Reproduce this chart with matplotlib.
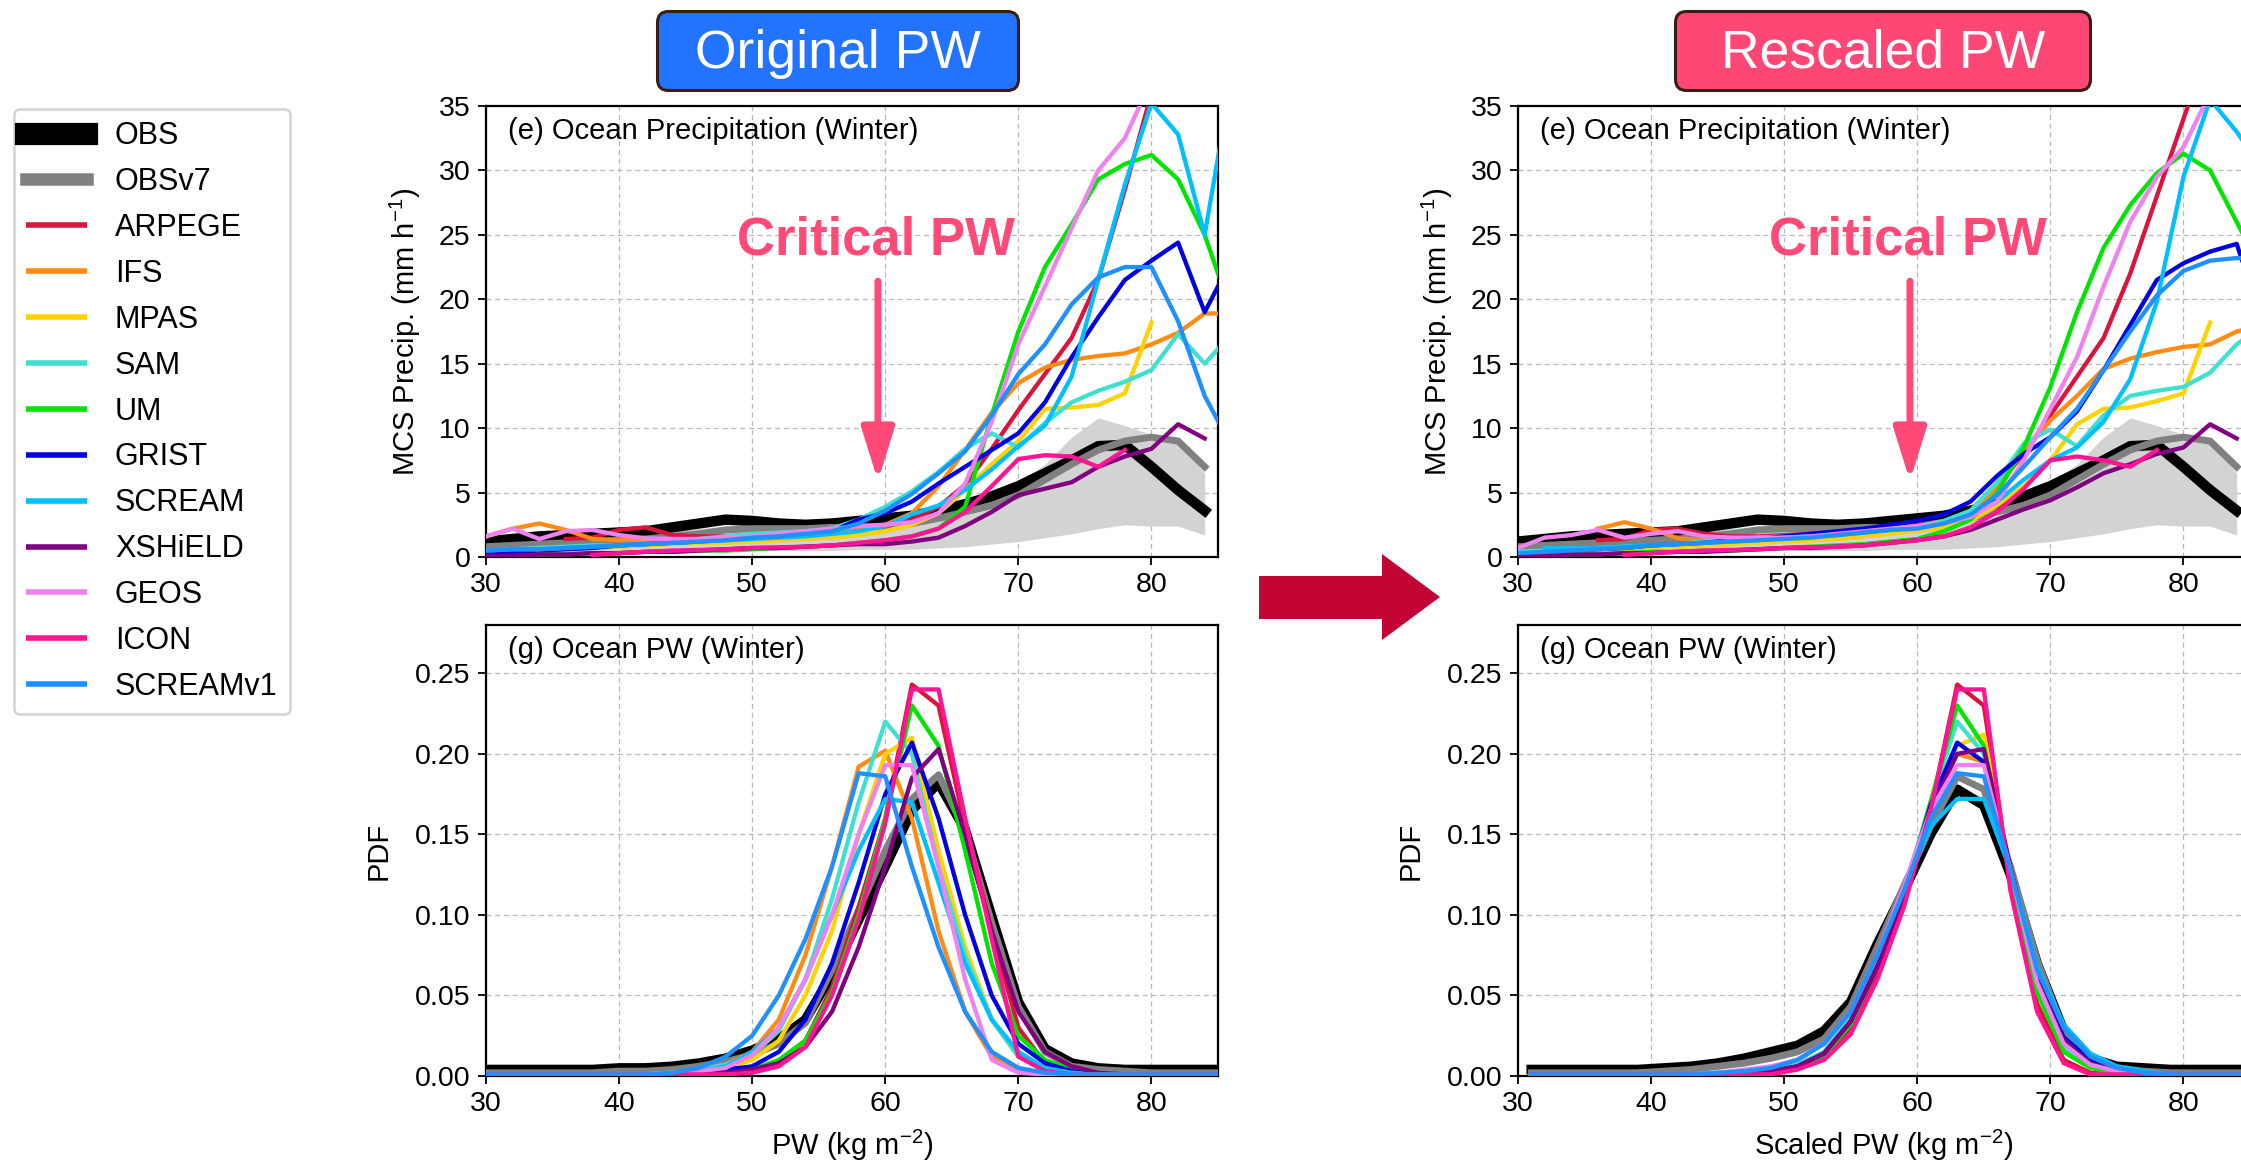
import numpy as np
import matplotlib
matplotlib.use("Agg")
import matplotlib.pyplot as plt
from matplotlib.lines import Line2D
from matplotlib.patches import FancyBboxPatch, Polygon
from matplotlib.ticker import FormatStrFormatter

plt.rcParams["font.family"] = ["Liberation Sans", "DejaVu Sans"]
plt.rcParams["mathtext.default"] = "regular"

nan = np.nan

# PW bins (kg m-2)
pw = [30, 32, 34, 36, 38, 40, 42, 44, 46, 48, 50, 52, 54, 56, 58, 60, 62, 64, 66, 68, 70, 72, 74, 76, 78, 80, 82, 84, 86]
pw_scaled = [31, 33, 35, 37, 39, 41, 43, 45, 47, 49, 51, 53, 55, 57, 59, 61, 63, 65, 67, 69, 71, 73, 75, 77, 79, 81, 83, 85, 87]

models = ["ARPEGE", "IFS", "MPAS", "SAM", "UM", "GRIST", "SCREAM", "XSHiELD", "GEOS", "ICON", "SCREAMv1"]
colors = ["#dc143c", "#ff8a14", "#ffd200", "#40e0d0", "#00e400", "#0000e0",
          "#00bfff", "#800080", "#ee82ee", "#ff1493", "#1e90ff"]

# ---- MCS precip vs PW (mm/h), obs ----
obs_precip = [1.2, 1.4, 1.6, 1.7, 1.8, 1.9, 2.0, 2.3, 2.6, 2.9, 2.8, 2.6, 2.5, 2.6, 2.8, 3.0, 3.2, 3.6, 4.1, 4.7, 5.5, 6.5, 7.5, 8.6, 8.7, 7.0, 5.2, 3.6, nan]
obsv7_precip = [0.8, 0.9, 1.0, 1.1, 1.2, 1.3, 1.4, 1.6, 1.8, 2.1, 2.2, 2.2, 2.2, 2.3, 2.3, 2.4, 2.6, 3.0, 3.5, 4.0, 4.8, 6.0, 7.2, 8.3, 9.0, 9.3, 9.0, 7.0, nan]
obs_range_lo = [0.2, 0.2, 0.3, 0.3, 0.3, 0.3, 0.4, 0.4, 0.4, 0.5, 0.5, 0.5, 0.5, 0.5, 0.6, 0.6, 0.6, 0.7, 0.8, 1.0, 1.2, 1.5, 1.8, 2.2, 2.5, 2.4, 2.4, 1.7, nan]
obs_range_hi = [1.0, 1.1, 1.2, 1.4, 1.5, 1.6, 1.8, 2.0, 2.2, 2.4, 2.5, 2.5, 2.5, 2.6, 2.7, 2.9, 3.1, 3.6, 4.2, 5.0, 5.8, 7.2, 9.3, 10.8, 10.2, 9.5, 9.0, 6.5, nan]

# ---- MCS precip vs original PW ----
arpege_p = [nan, nan, nan, 1.4, 1.5, 2.1, 2.3, 1.7, 1.6, 1.6, 1.7, 1.8, 1.9, 2.0, 2.2, 2.4, 2.9, 3.9, 5.6, 8.4, 11.4, 14.2, 17.0, 21.5, 28.5, 36.0, 40.0, 44.0, 48.0]
ifs_p = [1.6, 2.2, 2.6, 2.1, 1.4, 1.3, 1.3, 1.3, 1.3, 1.4, 1.5, 1.6, 1.7, 1.9, 2.1, 2.5, 3.4, 5.5, 8.3, 11.2, 13.5, 14.7, 15.3, 15.6, 15.8, 16.5, 17.4, 18.9, 18.9]
mpas_p = [0.4, 0.5, 0.6, 0.7, 0.8, 0.8, 0.9, 1.0, 1.1, 1.1, 1.2, 1.3, 1.4, 1.5, 1.7, 2.0, 2.5, 3.4, 5.2, 7.2, 9.0, 11.5, 11.6, 11.8, 12.7, 18.2, nan, nan, nan]
sam_p = [0.5, 0.6, 0.7, 0.8, 0.9, 0.9, 1.0, 1.2, 1.4, 1.6, 1.8, 1.9, 2.0, 2.2, 2.9, 3.9, 5.1, 6.6, 8.4, 9.6, 8.5, 10.4, 12.0, 12.9, 13.6, 14.5, 17.3, 15.0, 17.3]
um_p = [0.1, 0.1, 0.2, 0.2, 0.3, 0.3, 0.4, 0.4, 0.5, 0.5, 0.6, 0.7, 0.8, 0.9, 1.1, 1.3, 1.6, 2.2, 3.9, 11.0, 17.5, 22.5, 25.8, 29.3, 30.5, 31.2, 29.3, 25.0, 19.0]
grist_p = [0.3, 0.4, 0.5, 0.6, 0.7, 0.9, 1.0, 1.1, 1.2, 1.4, 1.5, 1.7, 1.8, 2.0, 2.9, 3.4, 4.3, 5.7, 7.0, 8.3, 9.6, 12.0, 15.5, 18.6, 21.5, 23.0, 24.4, 19.0, 23.0]
scream_p = [0.5, 0.6, 0.6, 0.7, 0.8, 0.9, 1.0, 1.1, 1.2, 1.3, 1.4, 1.5, 1.6, 1.8, 2.0, 2.4, 3.3, 4.0, 5.2, 6.8, 8.6, 10.2, 14.0, 21.5, 28.9, 35.2, 32.8, 25.0, 37.0]
xshield_p = [0.1, 0.1, 0.2, 0.2, 0.3, 0.3, 0.4, 0.4, 0.5, 0.6, 0.7, 0.7, 0.8, 0.9, 1.0, 1.0, 1.2, 1.5, 2.4, 3.5, 4.8, 5.3, 5.8, 7.0, 7.8, 8.4, 10.3, 9.2, nan]
geos_p = [1.6, 2.2, 1.4, 2.0, 2.1, 1.7, 1.45, 1.4, 1.4, 1.5, 1.6, 1.8, 2.0, 2.2, 2.4, 2.5, 2.7, 3.4, 5.7, 10.5, 16.5, 21.0, 25.5, 30.0, 32.5, 37.0, nan, nan, nan]
icon_p = [nan, nan, nan, nan, 0.15, 0.3, 0.4, 0.5, 0.55, 0.6, 0.7, 0.75, 0.8, 0.9, 1.1, 1.3, 1.6, 2.2, 3.5, 5.5, 7.6, 7.9, 7.8, 7.0, 8.3, nan, nan, nan, nan]
screamv1_p = [0.5, 0.6, 0.6, 0.7, 0.8, 0.9, 1.0, 1.1, 1.2, 1.3, 1.5, 1.6, 1.8, 2.0, 2.6, 3.6, 4.9, 6.5, 8.2, 11.0, 14.2, 16.5, 19.6, 21.7, 22.5, 22.5, 18.3, 12.5, 8.6]

# ---- MCS precip vs rescaled PW ----
arpege_rp = [nan, nan, nan, 1.3, 1.4, 2.1, 2.2, 1.8, 1.6, 1.6, 1.7, 1.8, 1.9, 2.0, 2.2, 2.5, 2.8, 3.5, 5.5, 8.0, 11.0, 14.0, 17.0, 22.0, 28.0, 34.0, 40.0, 46.0, 50.0]
ifs_rp = [nan, nan, nan, 2.2, 2.7, 2.2, 1.45, 1.3, 1.3, 1.35, 1.4, 1.5, 1.6, 1.8, 2.0, 2.3, 2.6, 3.3, 5.5, 8.2, 10.6, 12.5, 14.6, 15.4, 15.9, 16.3, 16.5, 17.5, 18.0]
mpas_rp = [0.3, 0.4, 0.5, 0.6, 0.6, 0.7, 0.8, 0.9, 1.0, 1.1, 1.2, 1.3, 1.4, 1.6, 1.8, 2.0, 2.3, 2.8, 4.0, 5.5, 7.5, 10.3, 11.5, 11.6, 12.1, 12.7, 18.2, nan, nan]
sam_rp = [0.4, 0.5, 0.6, 0.7, 0.8, 0.9, 1.0, 1.2, 1.3, 1.5, 1.6, 1.7, 1.8, 2.0, 2.2, 2.4, 2.8, 3.6, 5.8, 8.8, 9.9, 8.6, 11.0, 12.5, 12.9, 13.2, 14.3, 16.5, 18.0]
um_rp = [0.1, 0.1, 0.2, 0.2, 0.3, 0.4, 0.4, 0.5, 0.5, 0.6, 0.7, 0.8, 0.9, 1.0, 1.2, 1.4, 2.0, 2.9, 5.0, 8.5, 13.2, 19.0, 24.0, 27.3, 29.8, 31.3, 30.0, 26.0, 22.0]
grist_rp = [0.2, 0.3, 0.5, 0.6, 0.7, 0.9, 1.0, 1.1, 1.3, 1.4, 1.6, 1.8, 2.0, 2.2, 2.5, 2.8, 3.3, 4.3, 6.3, 8.0, 9.3, 11.3, 14.5, 18.0, 21.5, 22.8, 23.7, 24.3, 18.0]
scream_rp = [nan, 0.7, 0.7, 0.7, 0.8, 0.9, 1.0, 1.1, 1.2, 1.3, 1.5, 1.6, 1.7, 1.9, 2.1, 2.3, 2.6, 3.2, 4.3, 6.0, 7.5, 8.5, 10.5, 13.8, 19.8, 29.5, 35.5, 33.0, 30.0]
xshield_rp = [0.1, 0.1, 0.2, 0.2, 0.3, 0.3, 0.4, 0.4, 0.5, 0.6, 0.7, 0.7, 0.8, 0.9, 1.1, 1.3, 1.6, 2.1, 2.9, 3.7, 4.4, 5.4, 6.5, 7.2, 8.0, 8.5, 10.3, 9.2, nan]
geos_rp = [0.7, 1.5, 1.7, 2.1, 1.5, 1.8, 2.0, 1.6, 1.5, 1.5, 1.5, 1.6, 1.8, 2.0, 2.2, 2.4, 2.6, 3.1, 4.3, 7.5, 11.5, 15.5, 21.0, 26.0, 29.5, 31.8, 36.0, nan, nan]
icon_rp = [nan, nan, nan, nan, 0.15, 0.3, 0.4, 0.5, 0.55, 0.6, 0.7, 0.75, 0.8, 0.9, 1.1, 1.3, 1.6, 2.3, 3.5, 5.3, 7.5, 7.8, 7.5, 7.0, 8.3, nan, nan, nan, nan]
screamv1_rp = [0.3, 0.4, 0.5, 0.6, 0.7, 0.9, 1.0, 1.1, 1.2, 1.3, 1.4, 1.5, 1.7, 1.9, 2.1, 2.2, 2.6, 3.3, 4.8, 7.0, 9.3, 11.5, 14.5, 17.5, 20.3, 22.2, 23.0, 23.2, 23.2]

# ---- PW PDF (original PW) ----
obs_pdf = [.004, .004, .004, .004, .004, .005, .005, .006, .008, .011, .016, .023, .035, .063, .097, .130, .165, .182, .153, .099, .046, .017, .008, .005, .004, .004, .004, .004, .004]
obsv7_pdf = [.002, .002, .002, .002, .002, .003, .003, .004, .006, .009, .013, .020, .033, .066, .103, .140, .172, .187, .152, .095, .043, .015, .006, .004, .003, .002, .002, .002, .002]
arpege_pdf = [.001, .001, .001, .001, .001, .001, .001, .001, .001, .002, .004, .009, .022, .055, .105, .160, .243, .230, .155, .090, .030, .008, .002, .001, .001, .001, .001, .001, .001]
ifs_pdf = [.001, .001, .001, .001, .001, .001, .001, .002, .004, .007, .015, .035, .075, .130, .192, .202, .160, .090, .040, .012, .004, .002, .001, .001, .001, .001, .001, .001, .001]
mpas_pdf = [.001, .001, .001, .001, .001, .001, .001, .002, .003, .005, .010, .022, .050, .090, .150, .200, .210, .140, .080, .035, .012, .004, .002, .001, .001, .001, .001, .001, .001]
sam_pdf = [.001, .001, .001, .001, .001, .001, .001, .002, .004, .007, .013, .028, .060, .110, .170, .220, .200, .130, .075, .035, .012, .004, .002, .001, .001, .001, .001, .001, .001]
um_pdf = [.001, .001, .001, .001, .001, .001, .001, .001, .001, .002, .004, .010, .022, .052, .100, .160, .230, .205, .140, .070, .025, .010, .004, .002, .001, .001, .001, .001, .001]
grist_pdf = [.001, .001, .001, .001, .001, .001, .001, .001, .002, .004, .006, .015, .035, .070, .120, .175, .207, .160, .100, .050, .020, .008, .003, .001, .001, .001, .001, .001, .001]
scream_pdf = [.001, .001, .001, .001, .001, .001, .001, .002, .003, .006, .015, .030, .060, .100, .140, .172, .170, .120, .070, .035, .015, .005, .002, .001, .001, .001, .001, .001, .001]
xshield_pdf = [.001, .001, .001, .001, .001, .001, .001, .001, .001, .002, .004, .008, .018, .040, .080, .130, .185, .203, .150, .090, .040, .015, .006, .002, .001, .001, .001, .001, .001]
geos_pdf = [.001, .001, .001, .001, .001, .001, .001, .002, .003, .005, .013, .030, .060, .100, .150, .193, .193, .130, .060, .010, .002, .001, .001, .001, .001, .001, .001, .001, .001]
icon_pdf = [.001, .001, .001, .001, .001, .001, .001, .001, .001, .001, .002, .006, .018, .050, .097, .157, .240, .240, .160, .085, .012, .003, .001, .001, .001, .001, .001, .001, .001]
screamv1_pdf = [.001, .001, .001, .001, .001, .001, .001, .002, .005, .012, .025, .050, .085, .130, .188, .186, .130, .080, .040, .015, .005, .002, .001, .001, .001, .001, .001, .001, .001]

# ---- PW PDF (rescaled PW) ----
obs_rpdf = [.004, .004, .004, .004, .004, .005, .006, .008, .011, .015, .019, .028, .046, .082, .115, .150, .178, .168, .125, .070, .028, .011, .006, .005, .004, .004, .004, .004, .004]
obsv7_rpdf = [.002, .002, .002, .002, .002, .003, .004, .006, .008, .011, .015, .023, .043, .080, .118, .155, .186, .178, .130, .072, .028, .010, .005, .003, .002, .002, .002, .002, .002]
arpege_rpdf = [.001, .001, .001, .001, .001, .001, .001, .001, .001, .002, .005, .012, .030, .065, .110, .165, .243, .230, .120, .045, .010, .002, .001, .001, .001, .001, .001, .001, .001]
ifs_rpdf = [.001, .001, .001, .001, .001, .001, .001, .001, .002, .003, .007, .015, .035, .070, .115, .168, .200, .195, .128, .058, .020, .007, .003, .001, .001, .001, .001, .001, .001]
mpas_rpdf = [.001, .001, .001, .001, .001, .001, .001, .001, .002, .003, .007, .015, .035, .068, .112, .165, .205, .212, .128, .058, .020, .007, .003, .001, .001, .001, .001, .001, .001]
sam_rpdf = [.001, .001, .001, .001, .001, .001, .001, .001, .002, .003, .007, .015, .036, .070, .115, .170, .220, .200, .125, .055, .018, .006, .002, .001, .001, .001, .001, .001, .001]
um_rpdf = [.001, .001, .001, .001, .001, .001, .001, .001, .001, .002, .005, .013, .032, .068, .112, .170, .230, .205, .125, .052, .015, .005, .002, .001, .001, .001, .001, .001, .001]
grist_rpdf = [.001, .001, .001, .001, .001, .001, .001, .001, .002, .003, .006, .014, .034, .068, .112, .168, .207, .195, .128, .060, .024, .010, .004, .002, .001, .001, .001, .001, .001]
scream_rpdf = [.001, .001, .001, .001, .001, .001, .001, .002, .003, .005, .010, .020, .040, .075, .115, .155, .172, .172, .128, .068, .032, .014, .006, .003, .001, .001, .001, .001, .001]
xshield_rpdf = [.001, .001, .001, .001, .001, .001, .001, .001, .002, .003, .006, .014, .034, .068, .112, .165, .200, .203, .130, .060, .022, .008, .003, .001, .001, .001, .001, .001, .001]
geos_rpdf = [.001, .001, .001, .001, .001, .001, .001, .002, .004, .006, .010, .020, .040, .075, .118, .165, .193, .193, .128, .058, .020, .007, .003, .001, .001, .001, .001, .001, .001]
icon_rpdf = [.001, .001, .001, .001, .001, .001, .001, .001, .001, .001, .004, .010, .026, .060, .105, .165, .240, .240, .115, .040, .008, .001, .001, .001, .001, .001, .001, .001, .001]
screamv1_rpdf = [.001, .001, .001, .001, .001, .001, .001, .002, .003, .005, .010, .020, .040, .075, .115, .160, .188, .186, .128, .066, .030, .012, .005, .002, .001, .001, .001, .001, .001]

precip_orig = [arpege_p, ifs_p, mpas_p, sam_p, um_p, grist_p, scream_p, xshield_p, geos_p, icon_p, screamv1_p]
precip_resc = [arpege_rp, ifs_rp, mpas_rp, sam_rp, um_rp, grist_rp, scream_rp, xshield_rp, geos_rp, icon_rp, screamv1_rp]
pdf_orig = [arpege_pdf, ifs_pdf, mpas_pdf, sam_pdf, um_pdf, grist_pdf, scream_pdf, xshield_pdf, geos_pdf, icon_pdf, screamv1_pdf]
pdf_resc = [arpege_rpdf, ifs_rpdf, mpas_rpdf, sam_rpdf, um_rpdf, grist_rpdf, scream_rpdf, xshield_rpdf, geos_rpdf, icon_rpdf, screamv1_rpdf]

PINK = "#ff4a78"
W, H = 2241, 1169


def style_axes(ax, ymax, yticks):
    ax.set_xlim(30, 85)
    ax.set_ylim(0, ymax)
    ax.set_xticks([30, 40, 50, 60, 70, 80])
    ax.set_yticks(yticks)
    ax.set_axisbelow(True)
    ax.grid(True, linestyle=(0, (4, 3)), color="#b8b8b8", lw=0.9)
    ax.tick_params(direction="out", length=6, width=1.3, labelsize=20.5, pad=5)
    for s in ax.spines.values():
        s.set_linewidth(1.6)


def precip_panel(ax, model_data):
    ax.fill_between(pw, obs_range_lo, obs_range_hi, color="#d3d3d3", lw=0, zorder=1)
    ax.plot(pw, obs_precip, color="black", lw=7.5, zorder=2, solid_joinstyle="round")
    ax.plot(pw, obsv7_precip, color="#808080", lw=5, zorder=3, solid_joinstyle="round")
    for vals, c in zip(model_data, colors):
        ax.plot(pw, vals, color=c, lw=3.1, zorder=4)
    style_axes(ax, 35, [0, 5, 10, 15, 20, 25, 30, 35])
    ax.text(0.03, 0.945, "(e) Ocean Precipitation (Winter)", transform=ax.transAxes,
            fontsize=21, va="center", ha="left")
    ax.set_ylabel("MCS Precip. (mm h$^{-1}$)", fontsize=21)
    ax.yaxis.set_label_coords(-0.086, 0.5)
    # critical PW marker
    ax.text(59.3, 24.6, "Critical PW", color=PINK, fontsize=38, fontweight="bold",
            ha="center", va="center", zorder=6)
    ax.annotate("", xy=(59.45, 5.9), xytext=(59.45, 21.4),
                arrowprops=dict(arrowstyle="-|>,head_length=1.6,head_width=0.5",
                                color=PINK, lw=5, mutation_scale=20,
                                shrinkA=0, shrinkB=0), zorder=6)


def pdf_panel(ax, x, obs, obsv7, model_data, xlabel):
    ax.plot(x, obs, color="black", lw=7, zorder=2, solid_joinstyle="round")
    ax.plot(x, obsv7, color="#808080", lw=5, zorder=3, solid_joinstyle="round")
    for vals, c in zip(model_data, colors):
        ax.plot(x, vals, color=c, lw=3.1, zorder=4)
    style_axes(ax, 0.28, [0, 0.05, 0.10, 0.15, 0.20, 0.25])
    ax.yaxis.set_major_formatter(FormatStrFormatter("%.2f"))
    ax.text(0.03, 0.945, "(g) Ocean PW (Winter)", transform=ax.transAxes,
            fontsize=21, va="center", ha="left")
    ax.set_ylabel("PDF", fontsize=21)
    ax.yaxis.set_label_coords(-0.128, 0.5)
    ax.set_xlabel(xlabel, fontsize=21)
    ax.xaxis.set_label_coords(0.5, -0.115)


fig = plt.figure(figsize=(W / 100, H / 100), dpi=100)

aw, ah = 732 / W, 451 / H
ax_tl = fig.add_axes([486 / W, 1 - 557 / H, aw, ah])
ax_bl = fig.add_axes([486 / W, 1 - 1076 / H, aw, ah])
ax_tr = fig.add_axes([1518 / W, 1 - 557 / H, aw, ah])
ax_br = fig.add_axes([1518 / W, 1 - 1076 / H, aw, ah])

precip_panel(ax_tl, precip_orig)
precip_panel(ax_tr, precip_resc)
pdf_panel(ax_bl, pw, obs_pdf, obsv7_pdf, pdf_orig, "PW (kg m$^{-2}$)")
pdf_panel(ax_br, pw_scaled, obs_rpdf, obsv7_rpdf, pdf_resc, "Scaled PW (kg m$^{-2}$)")

# header boxes
for (x0, x1, label, fc) in [(656, 1020, "Original PW", "#2273ff"),
                            (1674, 2092, "Rescaled PW", "#ff4776")]:
    bw, bh = x1 - x0, 82
    bax = fig.add_axes([x0 / W, 1 - 92 / H, bw / W, bh / H])
    bax.set_xlim(0, bw)
    bax.set_ylim(0, bh)
    bax.axis("off")
    bax.add_patch(FancyBboxPatch((1.5, 1.5), bw - 3, bh - 3,
                                 boxstyle="round,pad=0,rounding_size=11",
                                 fc=fc, ec="#3a1d12", lw=2.2, clip_on=False))
    bax.text(bw / 2, bh / 2 - 3, label, color="white", fontsize=38.5,
             ha="center", va="center")

# arrow between the two columns
arrow_px = [(1259, 576), (1382, 576), (1382, 554), (1440, 597),
            (1382, 640), (1382, 619), (1259, 619)]
fig.patches.append(Polygon([(px / W, 1 - py / H) for px, py in arrow_px],
                           closed=True, transform=fig.transFigure,
                           fc="#c20535", ec="none"))

# legend
handles = [Line2D([], [], color="black", lw=16, solid_capstyle="projecting"),
           Line2D([], [], color="#808080", lw=9, solid_capstyle="projecting")]
handles += [Line2D([], [], color=c, lw=4, solid_capstyle="butt") for c in colors]
labels = ["OBS", "OBSv7"] + models
leg = fig.legend(handles, labels, loc="upper left", bbox_to_anchor=(14 / W, 1 - 109 / H),
                 bbox_transform=fig.transFigure, borderaxespad=0, fontsize=22,
                 handlelength=2.0, handletextpad=0.9, labelspacing=0.52,
                 borderpad=0.4, frameon=True, fancybox=True)
leg.get_frame().set_edgecolor("#c8c8c8")
leg.get_frame().set_linewidth(1.8)

fig.savefig("out.png", dpi=100)
